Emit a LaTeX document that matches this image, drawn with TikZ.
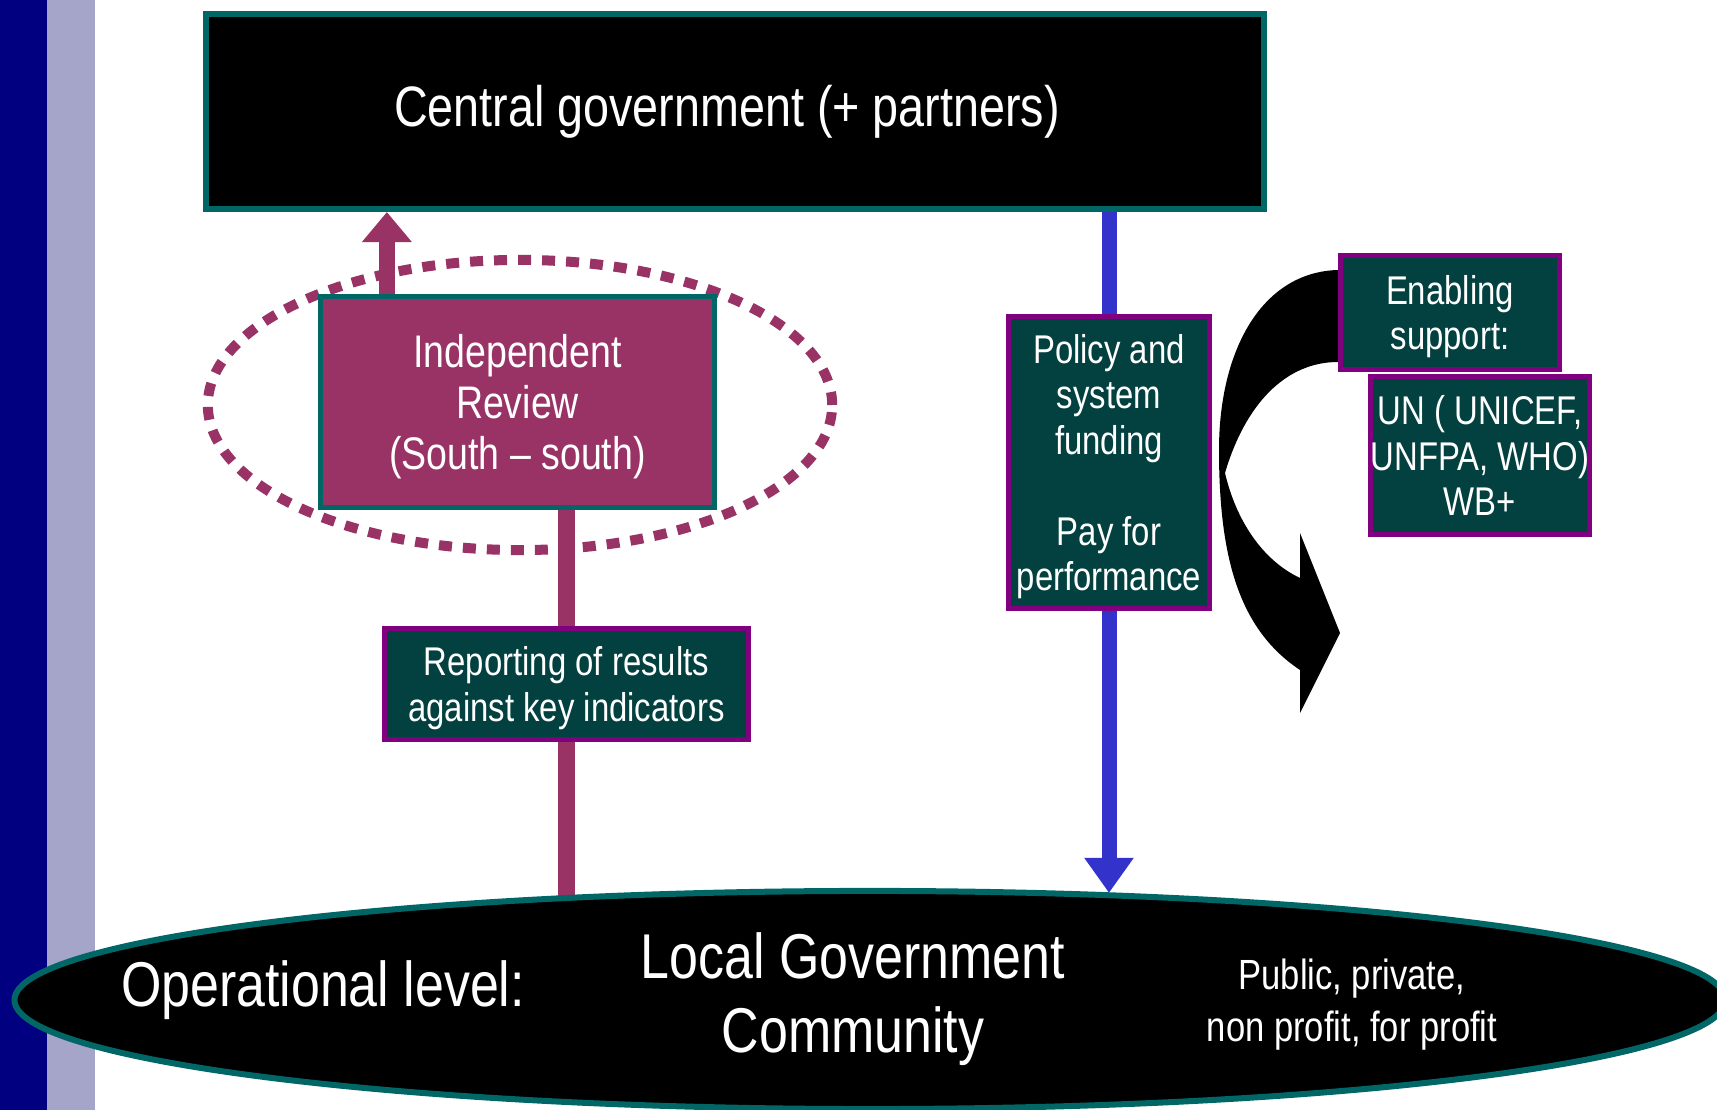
\documentclass[tikz,border=0pt]{standalone}
\usepackage{fontspec}
\setmainfont{Liberation Sans}[FakeStretch=0.82]
\usepackage{tikz}
\usetikzlibrary{arrows.meta}
\usetikzlibrary{shapes.geometric}
\usetikzlibrary{backgrounds}
\usetikzlibrary{calc}

\definecolor{barnavy}{RGB}{0,0,128}
\definecolor{barlilac}{RGB}{165,165,201}
\definecolor{rimteal}{RGB}{0,102,102}
\definecolor{reviewred}{RGB}{153,51,102}
\definecolor{boxteal}{RGB}{3,64,64}
\definecolor{rimpurple}{RGB}{128,0,128}
\definecolor{fundblue}{RGB}{51,51,204}

\tikzset{
  govbox/.style={draw=rimteal, fill=black, line width=0.06cm, text=white,
    inner sep=0pt},
  reviewbox/.style={draw=rimteal, fill=reviewred, line width=0.05cm, text=white,
    inner sep=0pt, align=center, text depth=-1pt, font=\fontsize{13}{14.5}\selectfont},
  infobox/.style={draw=rimpurple, fill=boxteal, line width=0.05cm, text=white,
    inner sep=0pt, align=center, text depth=-1pt, font=\fontsize{11.4}{12.9}\selectfont},
  leveltext/.style={text=white, inner sep=0pt, align=center},
  reviewline/.style={draw=reviewred, line width=0.16cm},
  reviewdots/.style={draw=reviewred, line width=0.10cm, dash pattern=on 0.13cm off 0.11cm},
  fundline/.style={draw=fundblue, line width=0.15cm}
}

\begin{document}
\begin{tikzpicture}[x=0.01cm,y=-0.01cm]

  \useasboundingbox (0,0) rectangle (1717,1110);

  % side bars
  \fill[barnavy]  (0,0)  rectangle (47,1110);
  \fill[barlilac] (47,0) rectangle (95,1110);

  % boxes
  \node[govbox, minimum width=10.58cm, minimum height=1.95cm,
    font=\fontsize{16.2}{19}\selectfont] (central) at (735,111.5)
    {\hspace*{-0.16cm}Central government (+ partners)};

  \node[reviewbox, minimum width=3.94cm, minimum height=2.11cm] (review) at (517.5,402)
    {Independent\\Review\\(South -- south)};

  \node[infobox, minimum width=3.64cm, minimum height=1.11cm] (report) at (566.5,684)
    {Reporting of results\\against key indicators};

  \node[infobox, minimum width=2.01cm, minimum height=2.92cm] (policy) at (1109,462.5)
    {Policy and\\system\\funding\\[12.9pt]Pay for\\performance};

  \node[infobox, minimum width=2.19cm, minimum height=1.14cm] (enabling) at (1450,312.5)
    {Enabling\\support:};

  \node[infobox, minimum width=2.19cm, minimum height=1.58cm] (agencies) at (1480,455.5)
    {UN ( UNICEF,\\UNFPA, WHO)\\WB+};

  % operational level
  \node[ellipse, draw=rimteal, fill=black, line width=0.06cm, inner sep=0pt,
    minimum width=17.1cm, minimum height=2.18cm] (local) at (870,1000) {};

  \node[leveltext, anchor=base, font=\fontsize{18}{21}\selectfont] (oplevel) at (323,1007)
    {Operational level:};
  \node[leveltext, anchor=base, font=\fontsize{18}{21.3}\selectfont] (localgov) at (853,1053)
    {Local Government\\Community};
  \node[leveltext, anchor=base, font=\fontsize{12}{14.8}\selectfont] (sectors) at (1352,1042)
    {Public, private,\\non profit, for profit};

  \begin{scope}[on background layer]
    % review loop
    \draw[reviewdots] (520,405) ellipse [x radius=3.12cm, y radius=1.45cm];
    \coordinate (upfoot) at ($(review.north west)+(69,0)$);
    \draw[reviewline, -{Triangle[width=0.48cm,length=0.30cm]}]
      (upfoot) -- (upfoot |- central.south);
    \draw[reviewline] (report |- review.south) -- (report.north);
    \draw[reviewline] (report.south) -- (report |- local.center);

    % funding line
    \draw[fundline] (central.south -| policy) -- (policy.north);
    \draw[fundline, -{Triangle[width=0.47cm,length=0.35cm]}]
      (policy.south) -- ($(policy |- local.north)+(0,5)$);

    % enabling support arrow
    \fill[black] (1345,270) -- (1338,270)
      .. controls (1262,272) and (1219,350) .. (1219,450)
      .. controls (1219,560) and (1240,630) .. (1300,670)
      -- (1300,713) -- (1340,633) -- (1300,533) -- (1300,578)
      .. controls (1262,560) and (1236,520) .. (1225,473)
      .. controls (1245,405) and (1285,362) .. (1338,362)
      -- (1345,362) -- cycle;
  \end{scope}

\end{tikzpicture}
\end{document}
